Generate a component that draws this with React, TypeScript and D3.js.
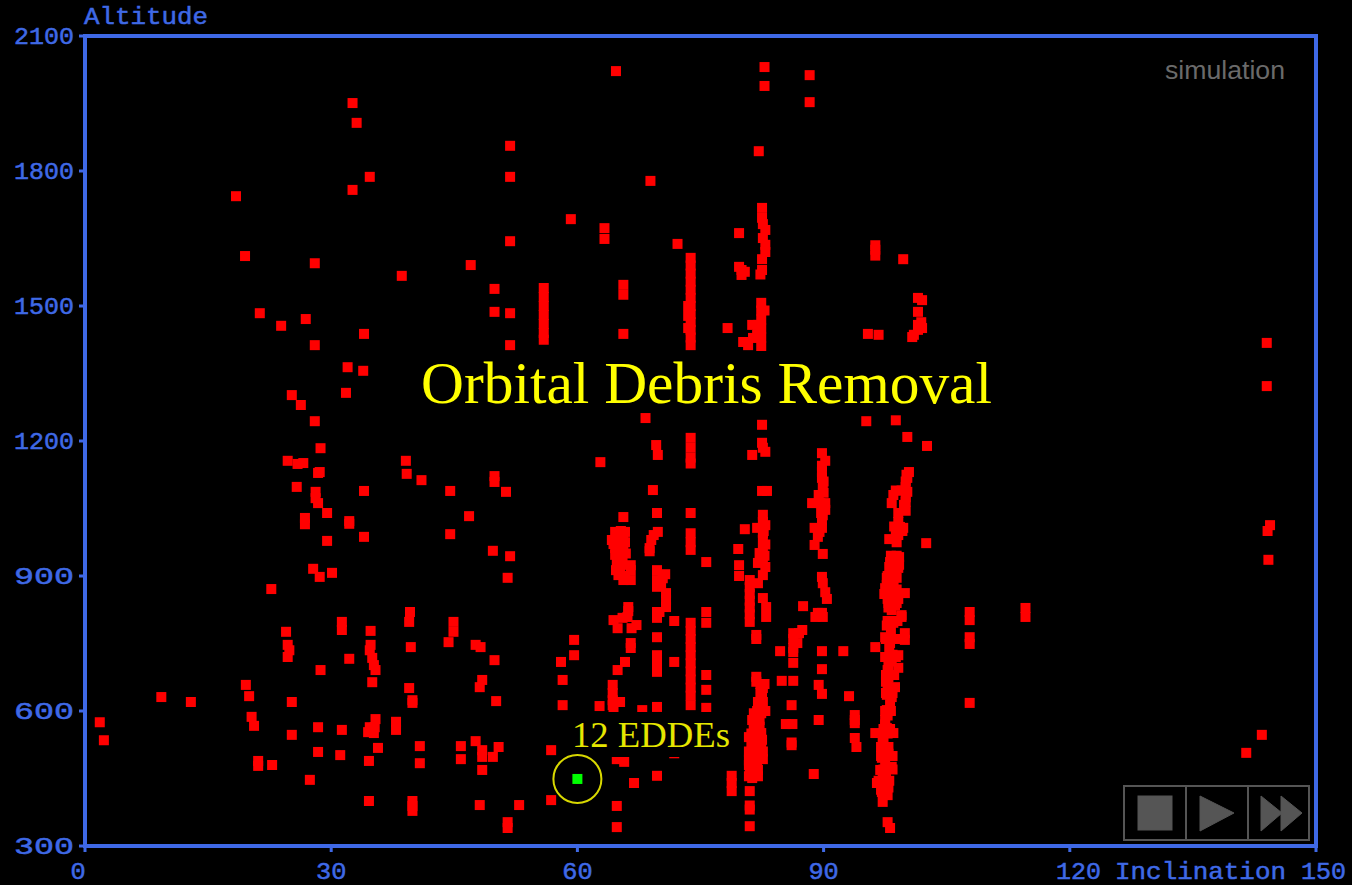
import React from "react";
import * as d3 from "d3";

// [inclination (deg), altitude (km)]
type P = [number, number];
const lowInclination: P[] = [[1.8,575],[2.3,535],[9.3,631],[12.9,620],[18.4,1744],[19.5,1611],[21.3,1484],[23.9,1456],[26.9,1471],[28,1595],[28,1413],[25.2,1302],[26.3,1280],[28,1244],[28.7,1184],[24.7,1156],[25.9,1149],[26.6,1151],[28.4,1129],[28.6,1131],[25.8,1098],[28.1,1087],[28.1,1073],[28.4,1062],[29.5,1040],[26.8,1029],[26.8,1015],[29.5,978],[27.8,916],[28.6,898],[30.1,907],[22.7,871],
[19.6,658],[20,633],[20.3,587],[20.6,567],[21.1,489],[21.1,478],[22.8,480],[27.4,447],[25.2,620],[25.2,547],[24.5,776],[24.7,747],[24.9,735],[24.7,720],[28.7,691],[28.4,564],[28.4,509]];
const midInclination: P[] = [[32.6,1951],[33.1,1907],[32.6,1758],[34.7,1787],[34,1438],[32,1364],[33.9,1356],[31.8,1307],[34,1089],[32.2,1022],[32.2,1016],[34,987],[38.6,1567],[39.1,1156],[39.2,1127],[41,1113],[44.5,1089],[44.5,993],[46.8,1033],[47,1591],[49.9,1538],[49.9,1487],[51.8,1484],[51.8,1413],[51.8,1856],[51.8,1787],[51.8,1644],[49.9,1122],[49.9,1109],[51.3,1087],[49.7,956],[51.8,944],[51.5,896],
[31.3,558],[31.1,502],[31.3,798],[31.3,780],[32.2,716],[34.8,778],[34.8,747],[34.7,735],[35,718],[35.2,702],[35.4,691],[35,664],[35.4,582],[35.3,564],[34.7,564],[34.5,553],[35.2,551],[35.7,518],[34.6,489],[34.6,400],[37.9,576],[37.9,558],[39.6,820],[39.5,798],[39.7,742],[39.5,651],[39.9,624],[39.9,618],[40.8,522],[40.8,484],[39.9,400],[39.9,389],[39.9,378],
[44.9,798],[44.9,776],[44.3,753],[45.8,522],[45.8,493],[47.6,747],[48.2,742],[48.4,669],[48.1,653],[47.6,533],[48.4,513],[48.4,498],[48.4,469],[48.1,391],[49.9,713],[50.1,622],[49.7,498],[50.4,520],[52.9,391],[51.5,353],[51.5,340],[56.8,513],[56.8,402],[58,709],[58.2,669],[58.2,613],[59.6,758],[59.6,724],[62.7,611],
[55.9,1540],[55.9,1520],[55.9,1500],[55.9,1480],[55.9,1460],[55.9,1440],[55.9,1425],[59.2,1693],[63.3,1673],[63.3,1649],[62.8,1153],[65.6,1547],[65.6,1525],[65.6,1438],[68.9,1778],[64.7,2022],[68.3,1251],[72.2,1638]];
const band65: P[] = [[65.6,1031],[64.6,998],[65.2,998],[65.8,998],[64.2,980],[64.8,980],[65.6,989],[64.6,962],[65.2,962],[65.6,969],[64.6,947],[64.8,931],[65.2,947],[64.7,913],[65,902],[65.6,891],[66.5,891],[66.5,924],[66.5,913],[64.4,971],[65,925],[65.4,980],
[65.8,975],[65.9,950],[64.9,955],[65.5,935],[65,945],[65.4,925],[65.2,910],[65.8,900],[64.8,990],[65.3,1000],
[66.2,831],[66.2,822],[66.1,809],[65.5,807],[64.4,802],[64.9,784],[66.6,784],[67.2,791],[66.5,751],[66.5,740],[65.8,709],[64.9,691],[64.3,658],[64.3,640],[64.3,624],[65.2,620],[64.3,613],[64.4,607],[64.8,493],[65.7,487],[66.9,440],[64.8,389],[64.8,342]];
const band70: P[] = [[69.7,1040],[69.8,998],[69.3,991],[69,980],[68.8,962],[68.8,955],[69.7,913],[70.7,904],[69.7,891],[69.7,876],[70.8,862],[70.8,847],[70.8,831],[69.7,820],[69.7,807],[71.8,800],[69.7,764],[69.7,724],[69.7,707],[69.7,687],[71.8,709],[70,820],[70.2,880],[70.4,895],[69.8,1169],[69.2,1091],[69.6,1191],[69.7,609],[67.9,602],[69.7,456],[71.8,506]];
const band74: P[] = [[73.8,1607],[73.8,1590],[73.8,1572],[73.8,1554],[73.8,1536],[73.8,1518],[73.8,1500],[73.8,1482],[73.8,1464],[73.8,1447],[73.8,1430],[73.8,1413],[73.5,1500],[73.5,1478],[73.5,1451],[73.8,1207],[73.8,1185],[73.8,1163],[73.8,1150],[73.8,1040],[73.8,995],[73.8,975],[73.8,958],[73.8,796],[73.8,778],[73.8,760],[73.8,742],[73.8,724],[73.8,706],[73.8,688],[73.8,670],[73.8,652],[73.8,634],[73.8,613],[75.7,931],[75.7,820],[75.7,796],[75.7,680],[75.7,647],[75.7,607]];
const band82: P[] = [[82.1,1844],[82.8,2031],[82.8,1989],[82.5,1718],[82.5,1696],[82.6,1682],[82.9,1669],[82.6,1651],[82.9,1636],[82.9,1620],[82.5,1604],[82.5,1580],[82.3,1570],[79.7,1662],[79.7,1587],[80,1580],[80.4,1576],[80,1569],[78.3,1451],[80.2,1420],[80.8,1413],[81.3,1458],[81.4,1429],[82.4,1507],[82.4,1490],[82.4,1470],[82.4,1450],[82.4,1430],[82.4,1410],[82,1458],[81.9,1436],[82.8,1490],
[82.5,1236],[82.5,1196],[82.9,1176],[82.6,1185],[81.3,1169],[82.5,1089],[83.1,1089],[82.6,1036],[82.9,1013],[81.9,1007],[80.4,1004],[82.6,996],[82.6,980],[82.6,958],[79.6,960],[82.2,951],[79.7,924],[82,929],[82.9,920],[79.7,900],[82.6,902],[82,884],[81,891],[81,875],[81,860],[81,845],[81,830],[81,815],[81,798],[82.6,851],[83,831],[83,809],[81.8,769],[81.8,760],
[82.6,1020],[82.7,1000],[82.9,970],[82.8,945],[82.6,935],
[81.8,676],[81.8,665],[82.6,651],[82.5,631],[82.4,609],[81.3,580],[82.2,580],[82.4,551],[80.9,542],[82.5,536],[81,507],[82.6,493],[80.9,480],[82,469],[81.3,451],[82.3,640],[82,620],[82.4,595],[82.2,565],[81.8,565],[81.5,595],[81.5,560],[81.5,530],[81.2,520],[81.5,500],[81.8,490],[82,510],[81,465],[81.3,470],
[82.3,660],[82.8,660],[82.6,620],[81.9,600],[82.9,600],[81.5,570],[81.2,550],[81.8,550],[81.9,530],[82.4,530],[80.9,510],[81.7,510],[82.6,510],[80.9,490],[81.9,490],[81.5,475],[80.9,455],[82,455],
[78.8,456],[78.8,440],[78.8,422],[81,422],[81,390],[81,381],[81,344]];
const band88: P[] = [[88.3,2013],[88.3,1953],[87.5,833],[87.4,780],[87,773],[86.3,773],[86.3,760],[86.8,751],[86.3,740],[86.3,731],[84.7,733],[86.3,707],[84.9,667],[86.3,667],[86.1,613],[85.4,571],[86.2,571],[86.1,524],[86.1,530]];
const band90: P[] = [[89.8,1173],[90.2,1156],[89.8,1131],[89.8,1118],[89.9,1096],[89.4,1080],[88.6,1062],[89.6,1062],[90.2,1062],[90.2,1047],[89.8,1024],[88.9,1007],[89.8,1007],[89.3,987],[88.9,969],[89.9,949],[89.8,898],[89.9,884],[90.2,864],[90.4,849],[89.3,818],[89.9,809],[89.8,818],[89,809],[89.8,733],[89.8,693],[89.4,658],[89.8,638],[89.4,580],[88.8,460],[92.4,733],[93.1,633],[93.8,591],[93.8,573],[93.8,580],[93.8,540],[94,520],[90,1110],[89.8,1145],[90,1085],[89.7,1040],[89.9,1035],[89.5,998]];
const band98: P[] = [[100.4,1131],[100.2,1118],[100,1098],[100.2,1087],[98.5,1080],[98.3,1062],[99.8,1058],[99.1,1040],[99.3,1009],[99.7,1007],[99.1,991],[98,982],[99.2,942],[98.1,931],[99.1,918],[97.7,896],[98.9,896],[97.5,873],[98.5,876],[99.9,862],[97.8,849],[99.1,849],[98.3,824],[99.5,813],[100,1110],[100,1075],[98.8,1090],[100.1,1125],[100,1065],[98.6,1010],[98.8,1000],[98.9,945],[98.6,925],[98.3,905],[98.5,880],[98.1,860],[98.1,838],[98.7,835],
[99.1,1020],[99.6,1000],[98.9,975],[99.5,1090],[100,1045],[98,920],[98.7,910],[97.7,880],[98.9,870],[97.4,860],[98.6,860],[97.8,900],[99.2,925],[98.2,945],
[98.5,840],[99.5,809],[98.5,796],[99.9,773],[99.9,758],[97.5,764],[96.3,742],[98.1,751],[99.1,724],[97.7,720],[99.1,696],[97.8,691],[97.8,658],[98.7,653],[97.7,636],[98.3,631],[97.7,602],[97.5,580],[97.7,562],[96.3,551],[98.5,551],[97.2,529],[97.5,513],[97.1,496],[98.3,476],[96.9,469],[96.5,440],[97.8,440],[97.1,420],[97.8,413],[97.2,398],[97.8,353],[98.1,340],[97.9,830],[98.2,780],[98,760],[98,740],[98.3,710],[97.9,675],[98.1,645],[98.1,615],[97.8,590],[97.5,570],[97.3,540],[97.6,520],[97.9,505],[97.5,485],[97.2,460],[97.6,450],[97.4,430],[97.9,430],[98.1,800],[97.7,790],[98.4,725],[97.9,700],[97.6,665],[97.8,550]];
const band98Core: P[] = [[97.9,840],[98.9,840],[97.8,800],[99,800],[97.6,760],[98.9,760],[97.5,720],[98.8,720],[97.6,680],[98.6,680],[97.6,640],[98.4,640],[97.5,600],[98.2,600],[97.3,560],[98.1,560],[97,520],[97.9,520],[97,500],[98.4,500],[97.3,470],[98.4,470],[96.7,445],[98,445],[97,425],[97.6,425]];
const highInclination: P[] = [[96.3,1635],[96.3,1625],[96.3,1612],[99.7,1604],[95.4,1438],[96.7,1436],[101.5,1518],[102,1513],[101.5,1487],[101.9,1464],[101.5,1458],[102,1451],[101.5,1447],[101,1436],[100.8,1431],[102.6,1189],[102.5,973],[95.2,1244],[98.8,1246],[100.2,1209],[107.8,820],[107.8,802],[107.8,764],[107.8,749],[107.8,618],[114.6,829],[114.6,809],[144,1418],[144,1322],[144.4,1013],[144.1,1000],[144.2,936],[141.5,507],[143.4,547]];
const debrisGroups = [lowInclination, midInclination, band65, band70, band74, band82, band88, band90, band98, band98Core, highInclination];
const edde: P = [60, 449];

const xTicks = [0, 30, 60, 90, 120, 150];
const yTicks = [300, 600, 900, 1200, 1500, 1800, 2100];
const xTickLabels = ["0", "30", "60", "90"];
const BLUE = "#3f69e6";
const GREY = "#555555";
const MONO = "'Liberation Mono', monospace";

export default function App() {
  const x = d3.scaleLinear().domain([0, 150]).range([85, 1316]);
  const y = d3.scaleLinear().domain([300, 2100]).range([846, 36]);
  const s = 10;
  const tickText = { fill: BLUE, fontFamily: MONO, fontSize: 24, stroke: BLUE, strokeWidth: 0.5, lengthAdjust: "spacingAndGlyphs" } as const;
  const cw = 15.2; // advance of the wide monospaced glyphs
  return (
    <svg width={1352} height={885} style={{ position: "absolute", left: 0, top: 0, background: "#000", display: "block" }}>
      <rect x={0} y={0} width={1352} height={885} fill="#000" />
      {debrisGroups.flat().map((d, i) => (
        <rect key={i} x={x(d[0]) - s / 2} y={y(d[1]) - s / 2} width={s} height={s} fill="#ff0000" />
      ))}
      {/* opaque label backgrounds hide the debris beneath them */}
      <rect x={420} y={351} width={572} height={60} fill="#000" />
      <rect x={570} y={712} width={160} height={45} fill="#000" />
      <text x={421} y={403} fill="#ffff00" fontFamily="'Liberation Serif', serif" fontSize={59} textLength={571} lengthAdjust="spacingAndGlyphs">Orbital Debris Removal</text>
      <text x={572} y={747} fill="#e6e600" fontFamily="'Liberation Serif', serif" fontSize={35} textLength={158} lengthAdjust="spacingAndGlyphs">12 EDDEs</text>
      <text x={1165} y={79} fill="#6a6a6a" fontFamily="'Liberation Sans', sans-serif" fontSize={25} textLength={120} lengthAdjust="spacingAndGlyphs">simulation</text>
      <circle cx={x(edde[0])} cy={y(edde[1])} r={24} fill="none" stroke="#d8d800" strokeWidth={2} />
      <rect x={x(edde[0]) - s / 2} y={y(edde[1]) - s / 2} width={s} height={s} fill="#00ff00" />

      <rect x={x(0)} y={y(2100)} width={x(150) - x(0)} height={y(300) - y(2100)} fill="none" stroke={BLUE} strokeWidth={4} />
      {yTicks.map((t) => (
        <g key={t}>
          <line x1={79} x2={85} y1={y(t)} y2={y(t)} stroke={BLUE} strokeWidth={3} />
          <text x={14} y={y(t) + 8} {...tickText} textLength={60}>{t}</text>
        </g>
      ))}
      {xTicks.map((t) => (
        <line key={t} x1={x(t)} x2={x(t)} y1={846} y2={852} stroke={BLUE} strokeWidth={3} />
      ))}
      {xTickLabels.map((l, i) => (
        <text key={l} x={(i === 0 ? x(xTicks[i]) - 7 : x(xTicks[i])) - (l.length * cw) / 2} y={879} {...tickText} textLength={l.length * cw}>{l}</text>
      ))}
      <text x={1056} y={879} {...tickText} textLength={45}>120</text>
      <text x={1115} y={879} {...tickText} textLength={171}>Inclination</text>
      <text x={1301} y={879} {...tickText} textLength={45}>150</text>
      <text x={84} y={24} {...tickText} textLength={124}>Altitude</text>

      <g fill={GREY} stroke={GREY}>
        <rect x={1124} y={786} width={185} height={54} fill="none" strokeWidth={2} />
        <line x1={1186} x2={1186} y1={786} y2={840} strokeWidth={2} />
        <line x1={1248} x2={1248} y1={786} y2={840} strokeWidth={2} />
        <rect x={1138} y={796} width={34} height={34} strokeWidth={1} />
        <polygon points="1200,796 1234,813 1200,831" strokeWidth={1} />
        <polygon points="1261,796 1282,813 1261,831" strokeWidth={1} />
        <polygon points="1281,796 1302,813 1281,831" strokeWidth={1} />
      </g>
    </svg>
  );
}
